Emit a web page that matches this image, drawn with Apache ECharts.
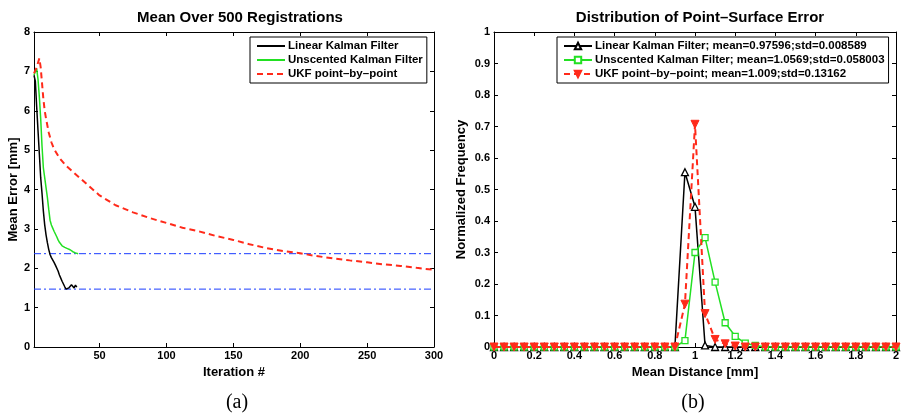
<!DOCTYPE html>
<html>
<head>
<meta charset="utf-8">
<script src="https://cdn.jsdelivr.net/npm/echarts@6/dist/echarts.min.js"></script>
<style>
  html, body { margin: 0; padding: 0; background: #fff; }
  #main { width: 904px; height: 414px; }
</style>
</head>
<body>
<div id="main"></div>
<script>
// ---- left plot: mean error per iteration ----
var lkfCurve = [[1,6.9],[2,6.75],[3,6.1],[4,5.5],[5,4.9],[6,4.3],[7,3.9],[8,3.45],[9,3.1],[10,2.85],[11,2.65],[12,2.48],[13,2.35],[14,2.27],[15,2.22],[16,2.15],[17,2.08],[18,2.03],[19,1.93],[20,1.83],[21,1.75],[22,1.67],[23,1.6],[24,1.53],[25,1.47],[26,1.47],[27,1.5],[28,1.53],[29,1.58],[30,1.6],[31,1.5],[32,1.57],[33,1.52]];
var ukfCurve = [[1,6.9],[2,7.0],[3,7.07],[4,6.8],[5,6.35],[6,5.8],[7,5.1],[8,4.55],[9,4.3],[10,4.05],[11,3.8],[12,3.5],[13,3.22],[14,3.1],[15,3.02],[16,2.94],[17,2.87],[18,2.8],[19,2.72],[20,2.66],[21,2.61],[22,2.57],[23,2.55],[24,2.53],[25,2.52],[26,2.5],[27,2.49],[28,2.47],[29,2.45],[30,2.42],[31,2.4],[32,2.39],[33,2.38],[34,2.37]];
var ukfPtCurve = [[1,6.95],[2,7.0],[3,7.1],[4,7.22],[5,7.33],[6,7.1],[7,6.7],[8,6.3],[9,6.0],[10,5.8],[12,5.45],[14,5.2],[16,5.03],[20,4.8],[25,4.6],[30,4.45],[40,4.15],[50,3.85],[62,3.6],[75,3.42],[88,3.27],[100,3.15],[112,3.03],[125,2.93],[137,2.82],[150,2.72],[162,2.61],[175,2.51],[187,2.44],[200,2.38],[212,2.31],[225,2.25],[237,2.2],[250,2.15],[262,2.1],[275,2.06],[287,2.01],[300,1.96]];
var refLevels = [1.47, 2.37];
var iterTicks = [50, 100, 150, 200, 250, 300];

// ---- right plot: histogram of point-surface error ----
var distBins = [0,0.05,0.1,0.15,0.2,0.25,0.3,0.35,0.4,0.45,0.5,0.55,0.6,0.65,0.7,0.75,0.8,0.85,0.9,0.95,1.0,1.05,1.1,1.15,1.2,1.25,1.3,1.35,1.4,1.45,1.5,1.55,1.6,1.65,1.7,1.75,1.8,1.85,1.9,1.95,2.0];
var lkfFreq   = [0,0,0,0,0,0,0,0,0,0,0,0,0,0,0,0,0,0,0,0.555,0.445,0.005,0,0,0,0,0,0,0,0,0,0,0,0,0,0,0,0,0,0,0];
var ukfFreq   = [0,0,0,0,0,0,0,0,0,0,0,0,0,0,0,0,0,0,0,0.02,0.30,0.347,0.206,0.077,0.034,0.012,0.005,0,0,0,0,0,0,0,0,0,0,0,0,0,0];
var ukfPtFreq = [0,0,0,0,0,0,0,0,0,0,0,0,0,0,0,0,0,0,0,0.136,0.707,0.106,0.024,0.01,0.003,0,0,0,0,0,0,0,0,0,0,0,0,0,0,0,0];

var legendNames = ['Linear Kalman Filter', 'Unscented Kalman Filter', 'UKF point\u2013by\u2013point'];
var histNames = [
    'Linear Kalman Filter; mean=0.97596;std=0.008589',
    'Unscented Kalman Filter; mean=1.0569;std=0.058003',
    'UKF point\u2013by\u2013point; mean=1.009;std=0.13162'
];

function pairs(xs, ys) {
    var out = [];
    for (var i = 0; i < xs.length; i++) out.push([xs[i], ys[i]]);
    return out;
}

var FONT = '"Liberation Sans", Arial, sans-serif';
var nameStyle = {color: '#000', fontWeight: 'bold', fontSize: 13, fontFamily: FONT};
var axLine = {show: true, onZero: false, lineStyle: {color: '#000', width: 1}};
var tickIn = {show: true, inside: true, length: 4, lineStyle: {color: '#000'}};
var legText = {color: '#000', fontWeight: 'bold', fontSize: 11.5, fontFamily: FONT, padding: [0, 0, 0, -2]};

var chart = echarts.init(document.getElementById('main'));
chart.setOption({
    animation: false,
    backgroundColor: '#fff',
    title: [
        {text: 'Mean Over 500 Registrations', left: 235, top: 5, textAlign: 'center',
         textStyle: {fontSize: 15, fontWeight: 'bold', fontFamily: FONT, color: '#000'}},
        {text: 'Distribution of Point\u2013Surface Error', left: 695, top: 5, textAlign: 'center',
         textStyle: {fontSize: 15, fontWeight: 'bold', fontFamily: FONT, color: '#000'}},
        {text: '(a)', left: 232, top: 388, textAlign: 'center',
         textStyle: {fontSize: 20, fontWeight: 'normal', fontFamily: '"Liberation Serif", serif', color: '#000'}},
        {text: '(b)', left: 688, top: 388, textAlign: 'center',
         textStyle: {fontSize: 20, fontWeight: 'normal', fontFamily: '"Liberation Serif", serif', color: '#000'}}
    ],
    grid: [
        {left: 34, top: 32, width: 400, height: 315},
        {left: 494, top: 32, width: 402, height: 315}
    ],
    legend: [
        {
            data: legendNames, left: 250, top: 37, orient: 'vertical',
            borderColor: '#000', borderWidth: 1, padding: [3, 4, 3, 6],
            itemGap: 2, itemWidth: 28, itemHeight: 11,
            backgroundColor: '#fff', itemStyle: {opacity: 0},
            textStyle: legText
        },
        {
            data: histNames, left: 557, top: 37, orient: 'vertical',
            borderColor: '#000', borderWidth: 1, padding: [3, 4, 3, 6],
            itemGap: 2, itemWidth: 28, itemHeight: 8,
            backgroundColor: '#fff',
            textStyle: legText
        }
    ],
    xAxis: [
        {gridIndex: 0, type: 'value', min: 1, max: 300, position: 'bottom',
         name: 'Iteration #', nameLocation: 'middle', nameGap: 16, nameTextStyle: nameStyle,
         axisLine: axLine, axisTick: {show: true, inside: true, length: 4, lineStyle: {color: '#000'}, customValues: iterTicks},
         axisLabel: {color: '#000', fontWeight: 'bold', fontSize: 11, fontFamily: FONT, margin: 3, customValues: iterTicks},
         splitLine: {show: false}},
        {gridIndex: 0, type: 'value', min: 1, max: 300, position: 'top',
         axisLine: axLine, axisTick: {show: true, inside: true, length: 4, lineStyle: {color: '#000'}, customValues: iterTicks},
         axisLabel: {show: false}, splitLine: {show: false}},
        {gridIndex: 1, type: 'value', min: 0, max: 2, interval: 0.2, position: 'bottom',
         name: 'Mean Distance [mm]', nameLocation: 'middle', nameGap: 16, nameTextStyle: nameStyle,
         axisLine: axLine, axisTick: tickIn,
         axisLabel: {color: '#000', fontWeight: 'bold', fontSize: 11, fontFamily: FONT, margin: 3},
         splitLine: {show: false}},
        {gridIndex: 1, type: 'value', min: 0, max: 2, interval: 0.2, position: 'top',
         axisLine: axLine, axisTick: tickIn, axisLabel: {show: false}, splitLine: {show: false}}
    ],
    yAxis: [
        {gridIndex: 0, type: 'value', min: 0, max: 8, interval: 1, position: 'left',
         name: 'Mean Error [mm]', nameLocation: 'middle', nameGap: 14, nameTextStyle: nameStyle,
         axisLine: axLine, axisTick: tickIn,
         axisLabel: {color: '#000', fontWeight: 'bold', fontSize: 11, fontFamily: FONT, margin: 4},
         splitLine: {show: false}},
        {gridIndex: 0, type: 'value', min: 0, max: 8, interval: 1, position: 'right',
         axisLine: axLine, axisTick: tickIn, axisLabel: {show: false}, splitLine: {show: false}},
        {gridIndex: 1, type: 'value', min: 0, max: 1, interval: 0.1, position: 'left',
         name: 'Normalized Frequency', nameLocation: 'middle', nameGap: 26, nameTextStyle: nameStyle,
         axisLine: axLine, axisTick: tickIn,
         axisLabel: {color: '#000', fontWeight: 'bold', fontSize: 11, fontFamily: FONT, margin: 4},
         splitLine: {show: false}},
        {gridIndex: 1, type: 'value', min: 0, max: 1, interval: 0.1, position: 'right',
         axisLine: axLine, axisTick: tickIn, axisLabel: {show: false}, splitLine: {show: false}}
    ],
    series: [
        // blue dash-dot reference levels (drawn below the curves)
        {type: 'line', xAxisIndex: 0, yAxisIndex: 0, data: [[1, refLevels[0]], [300, refLevels[0]]],
         symbol: 'none', silent: true, z: 1, color: '#1a3cff',
         lineStyle: {width: 1, color: '#1a3cff', type: [7, 3, 2, 3]}},
        {type: 'line', xAxisIndex: 0, yAxisIndex: 0, data: [[1, refLevels[1]], [300, refLevels[1]]],
         symbol: 'none', silent: true, z: 1, color: '#1a3cff',
         lineStyle: {width: 1, color: '#1a3cff', type: [7, 3, 2, 3]}},
        {name: legendNames[0], type: 'line', xAxisIndex: 0, yAxisIndex: 0, data: lkfCurve,
         symbol: 'none', z: 3, color: '#000', lineStyle: {width: 1.5, color: '#000'}},
        {name: legendNames[1], type: 'line', xAxisIndex: 0, yAxisIndex: 0, data: ukfCurve,
         symbol: 'none', z: 3, color: '#22e022', lineStyle: {width: 1.5, color: '#22e022'}},
        {name: legendNames[2], type: 'line', xAxisIndex: 0, yAxisIndex: 0, data: ukfPtCurve,
         symbol: 'none', z: 4, color: '#ff2a1a', lineStyle: {width: 2, color: '#ff2a1a', type: [6, 4]}},

        {name: histNames[0], type: 'line', xAxisIndex: 2, yAxisIndex: 2, data: pairs(distBins, lkfFreq),
         symbol: 'triangle', symbolSize: 7, z: 3, color: '#000',
         lineStyle: {width: 1.5, color: '#000'},
         itemStyle: {color: '#fff', borderColor: '#000', borderWidth: 1.3}},
        {name: histNames[1], type: 'line', xAxisIndex: 2, yAxisIndex: 2, data: pairs(distBins, ukfFreq),
         symbol: 'rect', symbolSize: 6, z: 4, color: '#22e022',
         lineStyle: {width: 1.5, color: '#22e022'},
         itemStyle: {color: '#fff', borderColor: '#22e022', borderWidth: 1.3}},
        {name: histNames[2], type: 'line', xAxisIndex: 2, yAxisIndex: 2, data: pairs(distBins, ukfPtFreq),
         symbol: 'triangle', symbolRotate: 180, symbolSize: 8, z: 5, color: '#ff2a1a',
         lineStyle: {width: 2, color: '#ff2a1a', type: [6, 4]},
         itemStyle: {color: '#ff2a1a', borderColor: '#ff2a1a', borderWidth: 1}}
    ]
});
</script>
</body>
</html>
